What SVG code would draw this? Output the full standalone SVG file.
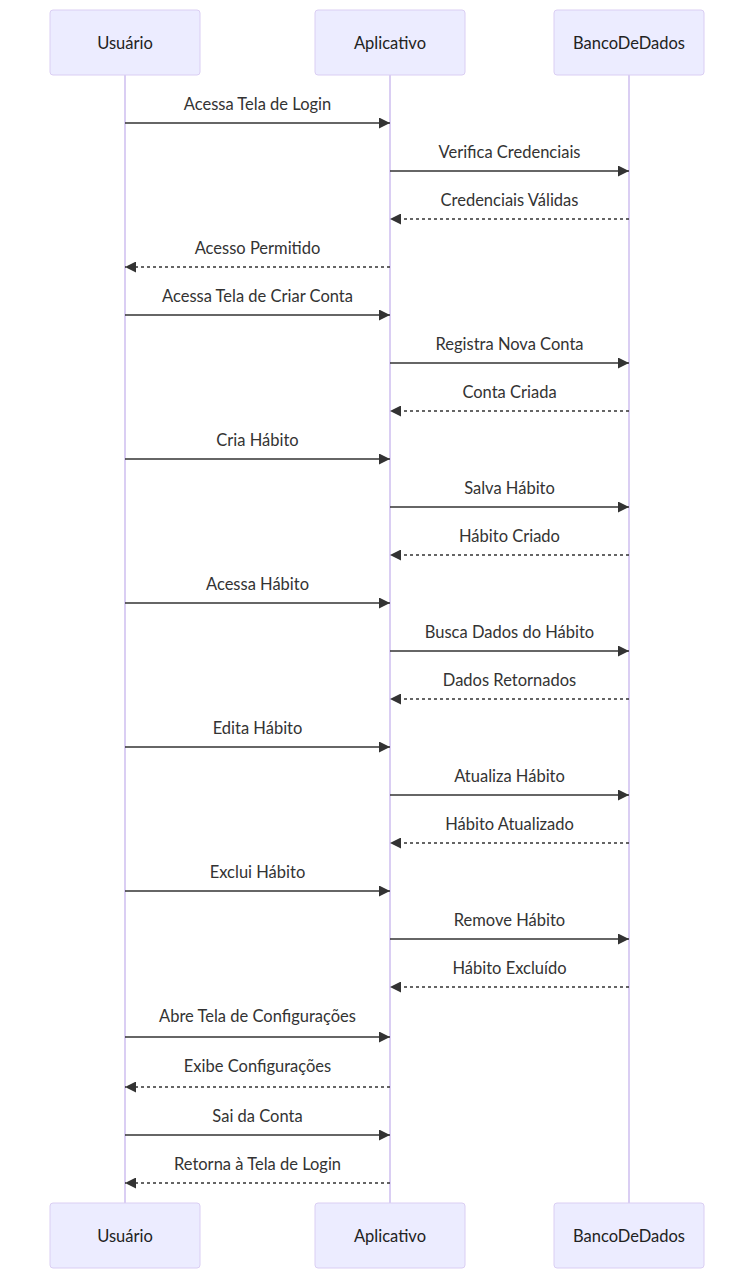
<svg xmlns="http://www.w3.org/2000/svg" width="754" height="1279" viewBox="0 0 754 1279">
<style>
.actor{fill:#ECECFF;stroke:#DACEF3;stroke-width:1}
.atext{font-family:Lato,"Liberation Sans",sans-serif;font-size:16.5px;fill:#222;text-anchor:middle;dominant-baseline:central}
.life{stroke:#DACEF3;stroke-width:2}
.msg{stroke:#333;stroke-width:1.5;fill:none}
.dash{stroke-dasharray:3,3}
.mtext{font-family:Lato,"Liberation Sans",sans-serif;font-size:16.5px;fill:#333;text-anchor:middle}
</style>
<defs>
<marker id="ah" viewBox="0 0 10 10" refX="10" refY="5" markerWidth="11" markerHeight="11" markerUnits="userSpaceOnUse" orient="auto">
<path d="M0,0 L10,5 L0,10 z" fill="#333"/>
</marker>
</defs>
<rect width="754" height="1279" fill="#fff"/>
<g id="lifelines">
<line class="life" x1="125" y1="75" x2="125" y2="1203"/>
<line class="life" x1="390" y1="75" x2="390" y2="1203"/>
<line class="life" x1="629" y1="75" x2="629" y2="1203"/>
</g>
<g id="Usuario">
<rect class="actor" x="50" y="10" width="150" height="65" rx="3"/>
<text class="atext" x="125" y="42.5">Usuário</text>
<rect class="actor" x="50" y="1203" width="150" height="65" rx="3"/>
<text class="atext" x="125" y="1235.5">Usuário</text>
</g>
<g id="Aplicativo">
<rect class="actor" x="315" y="10" width="150" height="65" rx="3"/>
<text class="atext" x="390" y="42.5">Aplicativo</text>
<rect class="actor" x="315" y="1203" width="150" height="65" rx="3"/>
<text class="atext" x="390" y="1235.5">Aplicativo</text>
</g>
<g id="BancoDeDados">
<rect class="actor" x="554" y="10" width="150" height="65" rx="3"/>
<text class="atext" x="629" y="42.5">BancoDeDados</text>
<rect class="actor" x="554" y="1203" width="150" height="65" rx="3"/>
<text class="atext" x="629" y="1235.5">BancoDeDados</text>
</g>
<g id="connectors">
<line class="msg" x1="125" y1="123" x2="390" y2="123" marker-end="url(#ah)"/>
<line class="msg" x1="390" y1="171" x2="629" y2="171" marker-end="url(#ah)"/>
<line class="msg dash" x1="629" y1="219" x2="390" y2="219" marker-end="url(#ah)"/>
<line class="msg dash" x1="390" y1="267" x2="125" y2="267" marker-end="url(#ah)"/>
<line class="msg" x1="125" y1="315" x2="390" y2="315" marker-end="url(#ah)"/>
<line class="msg" x1="390" y1="363" x2="629" y2="363" marker-end="url(#ah)"/>
<line class="msg dash" x1="629" y1="411" x2="390" y2="411" marker-end="url(#ah)"/>
<line class="msg" x1="125" y1="459" x2="390" y2="459" marker-end="url(#ah)"/>
<line class="msg" x1="390" y1="507" x2="629" y2="507" marker-end="url(#ah)"/>
<line class="msg dash" x1="629" y1="555" x2="390" y2="555" marker-end="url(#ah)"/>
<line class="msg" x1="125" y1="603" x2="390" y2="603" marker-end="url(#ah)"/>
<line class="msg" x1="390" y1="651" x2="629" y2="651" marker-end="url(#ah)"/>
<line class="msg dash" x1="629" y1="699" x2="390" y2="699" marker-end="url(#ah)"/>
<line class="msg" x1="125" y1="747" x2="390" y2="747" marker-end="url(#ah)"/>
<line class="msg" x1="390" y1="795" x2="629" y2="795" marker-end="url(#ah)"/>
<line class="msg dash" x1="629" y1="843" x2="390" y2="843" marker-end="url(#ah)"/>
<line class="msg" x1="125" y1="891" x2="390" y2="891" marker-end="url(#ah)"/>
<line class="msg" x1="390" y1="939" x2="629" y2="939" marker-end="url(#ah)"/>
<line class="msg dash" x1="629" y1="987" x2="390" y2="987" marker-end="url(#ah)"/>
<line class="msg" x1="125" y1="1037" x2="390" y2="1037" marker-end="url(#ah)"/>
<line class="msg dash" x1="390" y1="1087" x2="125" y2="1087" marker-end="url(#ah)"/>
<line class="msg" x1="125" y1="1135" x2="390" y2="1135" marker-end="url(#ah)"/>
<line class="msg dash" x1="390" y1="1183" x2="125" y2="1183" marker-end="url(#ah)"/>
</g>
<g id="labels">
<text class="mtext" x="257.5" y="110">Acessa Tela de Login</text>
<text class="mtext" x="509.5" y="158">Verifica Credenciais</text>
<text class="mtext" x="509.5" y="206">Credenciais Válidas</text>
<text class="mtext" x="257.5" y="254">Acesso Permitido</text>
<text class="mtext" x="257.5" y="302">Acessa Tela de Criar Conta</text>
<text class="mtext" x="509.5" y="350">Registra Nova Conta</text>
<text class="mtext" x="509.5" y="398">Conta Criada</text>
<text class="mtext" x="257.5" y="446">Cria Hábito</text>
<text class="mtext" x="509.5" y="494">Salva Hábito</text>
<text class="mtext" x="509.5" y="542">Hábito Criado</text>
<text class="mtext" x="257.5" y="590">Acessa Hábito</text>
<text class="mtext" x="509.5" y="638">Busca Dados do Hábito</text>
<text class="mtext" x="509.5" y="686">Dados Retornados</text>
<text class="mtext" x="257.5" y="734">Edita Hábito</text>
<text class="mtext" x="509.5" y="782">Atualiza Hábito</text>
<text class="mtext" x="509.5" y="830">Hábito Atualizado</text>
<text class="mtext" x="257.5" y="878">Exclui Hábito</text>
<text class="mtext" x="509.5" y="926">Remove Hábito</text>
<text class="mtext" x="509.5" y="974">Hábito Excluído</text>
<text class="mtext" x="257.5" y="1022">Abre Tela de Configurações</text>
<text class="mtext" x="257.5" y="1072">Exibe Configurações</text>
<text class="mtext" x="257.5" y="1122">Sai da Conta</text>
<text class="mtext" x="257.5" y="1170">Retorna à Tela de Login</text>
</g>
</svg>
